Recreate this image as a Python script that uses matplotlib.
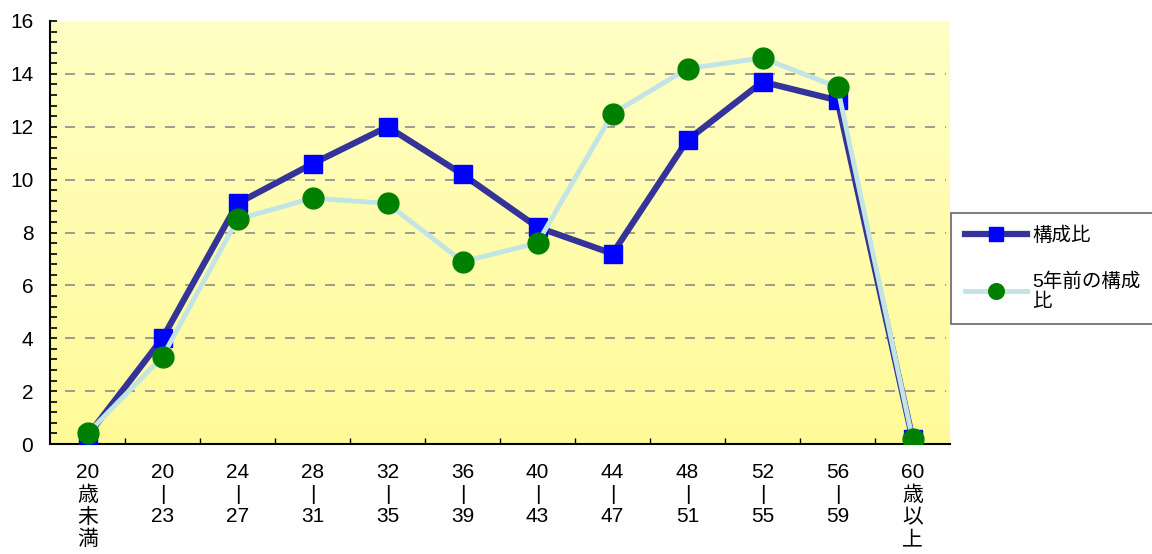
import matplotlib
matplotlib.use("Agg")
import matplotlib.pyplot as plt
import numpy as np
from matplotlib.colors import LinearSegmentedColormap
from matplotlib.ticker import MultipleLocator

plt.rcParams['font.family'] = ['Liberation Sans', 'Noto Sans CJK JP', 'DejaVu Sans']

categories = ["20\n歳\n未\n満", "20\n|\n23", "24\n|\n27", "28\n|\n31", "32\n|\n35", "36\n|\n39",
              "40\n|\n43", "44\n|\n47", "48\n|\n51", "52\n|\n55", "56\n|\n59", "60\n歳\n以\n上"]
current = [0.3, 4.0, 9.1, 10.6, 12.0, 10.2, 8.2, 7.2, 11.5, 13.7, 13.0, 0.2]
five_years_ago = [0.4, 3.3, 8.5, 9.3, 9.1, 6.9, 7.6, 12.5, 14.2, 14.6, 13.5, 0.2]
series_names = ["構成比", "5年前の構成\n比"]
y_ticks = [0, 2, 4, 6, 8, 10, 12, 14, 16]

fig = plt.figure(figsize=(11.52, 5.54), dpi=100)
ax = fig.add_axes([50/1152, 110/554, 900/1152, 423/554])

x = np.arange(len(categories))
ax.set_xlim(-0.5, len(categories) - 0.5)
ax.set_ylim(0, 16)

# gradient background
cmap = LinearSegmentedColormap.from_list("bg", ["#FFFA98", "#FFFFC4"])
grad = np.linspace(0, 1, 256).reshape(-1, 1)
ax.imshow(grad, aspect='auto', cmap=cmap, origin='lower',
          extent=[-0.5, len(categories) - 0.5, 0, 16], zorder=0)

for yv in y_ticks[1:-1]:
    ax.plot([-0.3, len(categories) - 0.55], [yv, yv], color='#8c8c8c', lw=1.2,
            dashes=(6, 6), zorder=1)

ax.plot(x, current, color='#333399', lw=4.5, marker='s', markersize=13,
        markerfacecolor='#0000FF', markeredgecolor='#0000FF', zorder=3, label=series_names[0])
ax.plot(x, five_years_ago, color='#C2E4E4', lw=3.5, marker='o', markersize=15,
        markerfacecolor='#008000', markeredgecolor='#008000', zorder=4, label=series_names[1])

for s in ['top', 'right']:
    ax.spines[s].set_visible(False)
ax.spines['left'].set_linewidth(1.5)
ax.spines['bottom'].set_linewidth(1.5)

ax.set_yticks(y_ticks)
ax.yaxis.set_minor_locator(MultipleLocator(0.4))
ax.tick_params(axis='y', which='both', direction='in', length=5, width=1.2, labelsize=15, pad=12)
ax.set_xticks(x)
ax.set_xticklabels(categories, fontsize=15, linespacing=1.2, va='top')
ax.tick_params(axis='x', which='major', length=0, pad=14)
ax.set_xticks(np.arange(0.5, len(categories) - 0.5, 1.0), minor=True)
ax.tick_params(axis='x', which='minor', direction='in', length=4, width=1.0)

leg = fig.legend(loc='upper left', bbox_to_anchor=(951/1152, 1 - 213/554),
                 fontsize=14, frameon=True, fancybox=False, edgecolor='#404040',
                 handlelength=3.2, borderpad=0.7, labelspacing=1.4, handletextpad=0.3,
                 borderaxespad=0, markerscale=0.75)
leg.get_frame().set_linewidth(1.2)

fig.savefig("out.png", dpi=100)
